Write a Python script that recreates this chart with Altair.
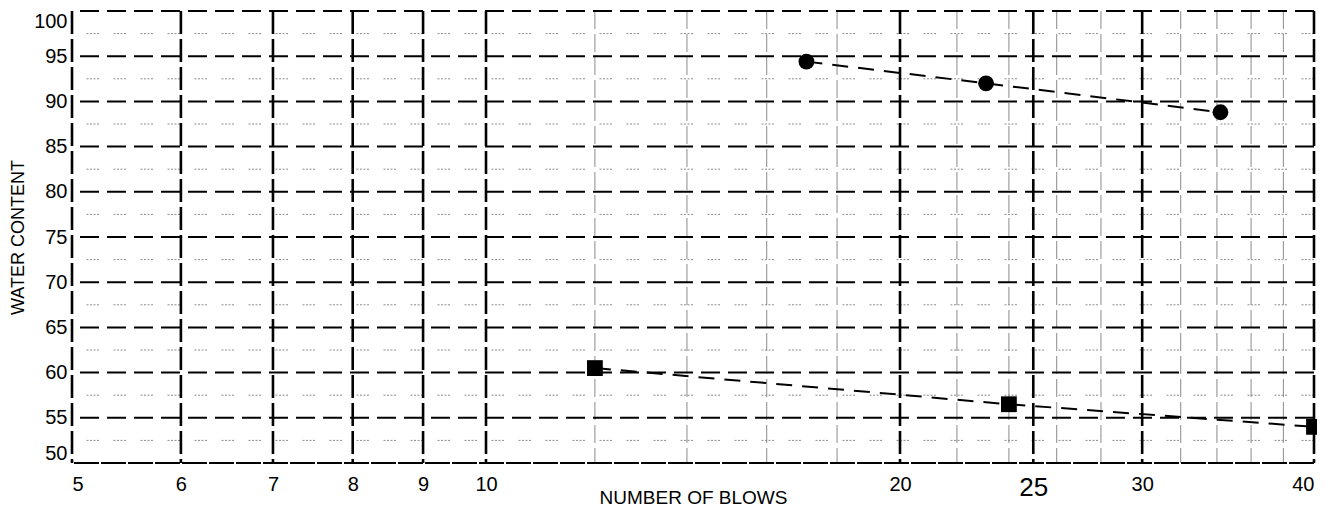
import altair as alt
import pandas as pd

# ---- data ----
blows_circle = [17.1, 23.1, 34.2]
water_circle = [94.4, 92.0, 88.8]
blows_square = [12.0, 24.0, 40.0]
water_square = [60.5, 56.5, 54.0]

# ---- axis / grid values ----
x_ticks = [5, 6, 7, 8, 9, 10, 20, 25, 30, 40]
x_minor = [12, 14, 16, 18, 22, 24, 26, 28, 32, 34, 36, 38]
y_ticks = [50, 55, 60, 65, 70, 75, 80, 85, 90, 95, 100]
y_major = [55, 60, 65, 70, 75, 80, 85, 90, 95, 100]
y_minor = [52.5, 57.5, 62.5, 67.5, 72.5, 77.5, 82.5, 87.5, 92.5, 97.5]
y_bottom = [50]

FONT = "Liberation Sans"
W, H = 1242, 452
xs = alt.Scale(type="log", domain=[5, 40], nice=False)
ys = alt.Scale(domain=[50, 100], nice=False, zero=False)

x_axis = alt.Axis(
    values=x_ticks, format="d", title="NUMBER OF BLOWS", grid=False, ticks=False,
    domain=False, labelFlush=True, labelPadding=11, labelOverlap=False,
    labelFontSize={"expr": "datum.value == 25 ? 26 : 20"}, labelFont=FONT,
    labelColor="black", titleFont=FONT, titleFontSize=19, titleFontWeight="normal",
    titleColor="black", titleBaseline="alphabetic", titleY=40,
)
y_axis = alt.Axis(
    values=y_ticks, title="WATER CONTENT", grid=False, ticks=False, domain=False,
    labelFlush=True, labelPadding=5, labelFontSize=20, labelFont=FONT,
    labelColor="black", titleFont=FONT, titleFontSize=18, titleFontWeight="normal",
    titleColor="black", titleX=-54, titleY=H / 2, titleAngle=270,
    titleAlign="center", titleBaseline="middle",
)

X = lambda: alt.X("x:Q", scale=xs, axis=x_axis)
Y = lambda: alt.Y("y:Q", scale=ys, axis=y_axis)

minor_h = alt.Chart(pd.DataFrame({"y": y_minor})).mark_rule(
    color="#8c8c8c", strokeWidth=1, strokeDash=[2, 1.5, 2, 1.5, 2, 1.5, 2, 14.5]
).encode(y=Y())

minor_v = alt.Chart(pd.DataFrame({"x": x_minor})).mark_rule(
    color="#8a8a8a", strokeWidth=1, strokeDash=[18, 5]
).encode(x=X())

major_h = alt.Chart(pd.DataFrame({"y": y_major})).mark_rule(
    color="black", strokeWidth=2, strokeDash=[19, 8]
).encode(y=Y())

bottom_h = alt.Chart(pd.DataFrame({"y": y_bottom})).mark_rule(
    color="black", strokeWidth=2, strokeDash=[25, 2]
).encode(y=Y())

major_v = alt.Chart(pd.DataFrame({"x": x_ticks})).mark_rule(
    color="black", strokeWidth=2.6, strokeDash=[23, 5]
).encode(x=X())

circ_df = pd.DataFrame({"x": blows_circle, "y": water_circle})
sq_df = pd.DataFrame({"x": blows_square, "y": water_square})

circ_line = alt.Chart(circ_df).mark_line(
    color="black", strokeWidth=2, strokeDash=[16, 10]
).encode(x=X(), y=Y())
sq_line = alt.Chart(sq_df).mark_line(
    color="black", strokeWidth=2, strokeDash=[16, 10]
).encode(x=X(), y=Y())

circ_pts = alt.Chart(circ_df).mark_point(
    shape="circle", filled=True, color="black", size=250, opacity=1
).encode(x=X(), y=Y())
sq_pts = alt.Chart(sq_df).mark_point(
    shape="square", filled=True, color="black", size=250, opacity=1
).encode(x=X(), y=Y())

chart = alt.layer(
    minor_h, minor_v, major_h, bottom_h, major_v,
    circ_line, sq_line, circ_pts, sq_pts,
).properties(
    width=W, height=H,
    autosize=alt.AutoSizeParams(type="none"),
    padding={"left": 64, "top": 3, "right": 3, "bottom": 46},
    background="white",
).configure_view(stroke=None)

chart.save("out.html", embed_options={"renderer": "svg", "actions": False})
